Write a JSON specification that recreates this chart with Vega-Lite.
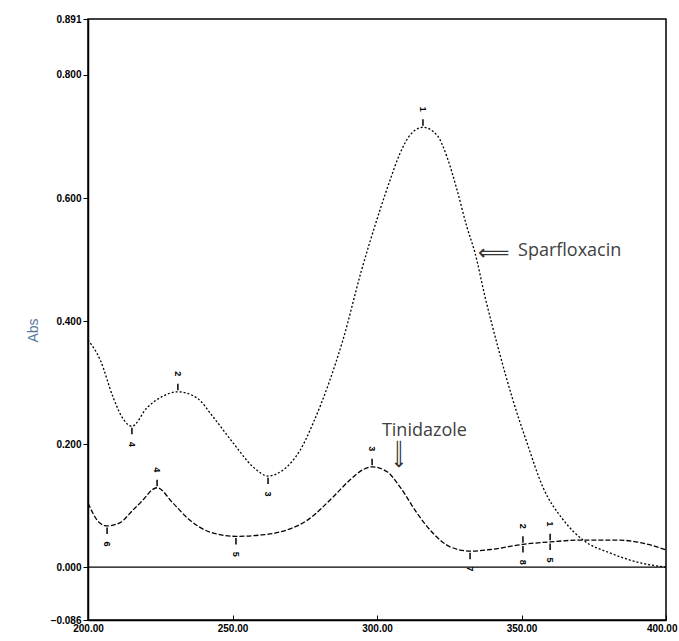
{
  "$schema": "https://vega.github.io/schema/vega-lite/v6.json",
  "width": 578,
  "height": 601,
  "autosize": {"type": "none"},
  "padding": {"left": 88, "top": 19, "right": 13, "bottom": 21},
  "background": "white",
  "config": {
    "view": {"stroke": "black", "strokeWidth": 1.5},
    "axis": {"grid": false, "domainColor": "black", "domainWidth": 1.5, "tickColor": "black", "labelColor": "black", "labelFont": "Liberation Sans", "labelFontSize": 10, "labelFontWeight": "bold"}
  },
  "datasets": {
    "spectra": [
      {"nm": 200, "abs": 0.369, "compound": "Sparfloxacin"},
      {"nm": 204.2, "abs": 0.337, "compound": "Sparfloxacin"},
      {"nm": 208.7, "abs": 0.276, "compound": "Sparfloxacin"},
      {"nm": 212, "abs": 0.242, "compound": "Sparfloxacin"},
      {"nm": 215.2, "abs": 0.229, "compound": "Sparfloxacin"},
      {"nm": 220.4, "abs": 0.259, "compound": "Sparfloxacin"},
      {"nm": 226, "abs": 0.278, "compound": "Sparfloxacin"},
      {"nm": 231.1, "abs": 0.285, "compound": "Sparfloxacin"},
      {"nm": 237.7, "abs": 0.275, "compound": "Sparfloxacin"},
      {"nm": 243.3, "abs": 0.244, "compound": "Sparfloxacin"},
      {"nm": 250.2, "abs": 0.202, "compound": "Sparfloxacin"},
      {"nm": 257.1, "abs": 0.163, "compound": "Sparfloxacin"},
      {"nm": 262.3, "abs": 0.148, "compound": "Sparfloxacin"},
      {"nm": 267.5, "abs": 0.158, "compound": "Sparfloxacin"},
      {"nm": 273.4, "abs": 0.19, "compound": "Sparfloxacin"},
      {"nm": 277.9, "abs": 0.234, "compound": "Sparfloxacin"},
      {"nm": 283.7, "abs": 0.304, "compound": "Sparfloxacin"},
      {"nm": 288.2, "abs": 0.369, "compound": "Sparfloxacin"},
      {"nm": 294.5, "abs": 0.48, "compound": "Sparfloxacin"},
      {"nm": 301, "abs": 0.58, "compound": "Sparfloxacin"},
      {"nm": 304.5, "abs": 0.629, "compound": "Sparfloxacin"},
      {"nm": 308, "abs": 0.673, "compound": "Sparfloxacin"},
      {"nm": 311.4, "abs": 0.702, "compound": "Sparfloxacin"},
      {"nm": 315.9, "abs": 0.715, "compound": "Sparfloxacin"},
      {"nm": 320.8, "abs": 0.702, "compound": "Sparfloxacin"},
      {"nm": 324.2, "abs": 0.667, "compound": "Sparfloxacin"},
      {"nm": 327.7, "abs": 0.613, "compound": "Sparfloxacin"},
      {"nm": 331.1, "abs": 0.553, "compound": "Sparfloxacin"},
      {"nm": 333.9, "abs": 0.511, "compound": "Sparfloxacin"},
      {"nm": 337.4, "abs": 0.439, "compound": "Sparfloxacin"},
      {"nm": 342, "abs": 0.355, "compound": "Sparfloxacin"},
      {"nm": 347, "abs": 0.272, "compound": "Sparfloxacin"},
      {"nm": 351.9, "abs": 0.202, "compound": "Sparfloxacin"},
      {"nm": 357.4, "abs": 0.13, "compound": "Sparfloxacin"},
      {"nm": 364.4, "abs": 0.077, "compound": "Sparfloxacin"},
      {"nm": 371.3, "abs": 0.044, "compound": "Sparfloxacin"},
      {"nm": 380.6, "abs": 0.023, "compound": "Sparfloxacin"},
      {"nm": 391, "abs": 0.007, "compound": "Sparfloxacin"},
      {"nm": 400, "abs": 0.0, "compound": "Sparfloxacin"},
      {"nm": 200, "abs": 0.104, "compound": "Tinidazole"},
      {"nm": 204, "abs": 0.072, "compound": "Tinidazole"},
      {"nm": 206.6, "abs": 0.067, "compound": "Tinidazole"},
      {"nm": 211, "abs": 0.072, "compound": "Tinidazole"},
      {"nm": 215.6, "abs": 0.093, "compound": "Tinidazole"},
      {"nm": 218, "abs": 0.104, "compound": "Tinidazole"},
      {"nm": 223.9, "abs": 0.129, "compound": "Tinidazole"},
      {"nm": 229.4, "abs": 0.104, "compound": "Tinidazole"},
      {"nm": 235.3, "abs": 0.076, "compound": "Tinidazole"},
      {"nm": 242.2, "abs": 0.057, "compound": "Tinidazole"},
      {"nm": 251.2, "abs": 0.05, "compound": "Tinidazole"},
      {"nm": 259.5, "abs": 0.052, "compound": "Tinidazole"},
      {"nm": 266.4, "abs": 0.057, "compound": "Tinidazole"},
      {"nm": 275.8, "abs": 0.076, "compound": "Tinidazole"},
      {"nm": 284.8, "abs": 0.114, "compound": "Tinidazole"},
      {"nm": 290.7, "abs": 0.142, "compound": "Tinidazole"},
      {"nm": 295, "abs": 0.158, "compound": "Tinidazole"},
      {"nm": 298.3, "abs": 0.163, "compound": "Tinidazole"},
      {"nm": 303.5, "abs": 0.155, "compound": "Tinidazole"},
      {"nm": 308, "abs": 0.13, "compound": "Tinidazole"},
      {"nm": 313.8, "abs": 0.088, "compound": "Tinidazole"},
      {"nm": 319.4, "abs": 0.055, "compound": "Tinidazole"},
      {"nm": 325.3, "abs": 0.033, "compound": "Tinidazole"},
      {"nm": 332.2, "abs": 0.026, "compound": "Tinidazole"},
      {"nm": 340, "abs": 0.029, "compound": "Tinidazole"},
      {"nm": 350.5, "abs": 0.037, "compound": "Tinidazole"},
      {"nm": 359.9, "abs": 0.041, "compound": "Tinidazole"},
      {"nm": 371, "abs": 0.044, "compound": "Tinidazole"},
      {"nm": 383, "abs": 0.044, "compound": "Tinidazole"},
      {"nm": 392, "abs": 0.039, "compound": "Tinidazole"},
      {"nm": 400, "abs": 0.028, "compound": "Tinidazole"}
    ],
    "markers": [
      {"nm": 315.9, "abs": 0.715, "num": "1", "pos": "above"},
      {"nm": 231.1, "abs": 0.285, "num": "2", "pos": "above"},
      {"nm": 262.3, "abs": 0.148, "num": "3", "pos": "below"},
      {"nm": 215.2, "abs": 0.229, "num": "4", "pos": "below"},
      {"nm": 206.6, "abs": 0.067, "num": "6", "pos": "below"},
      {"nm": 223.9, "abs": 0.129, "num": "4", "pos": "above"},
      {"nm": 251.2, "abs": 0.05, "num": "5", "pos": "below"},
      {"nm": 298.3, "abs": 0.163, "num": "3", "pos": "above"},
      {"nm": 332.2, "abs": 0.026, "num": "7", "pos": "below"},
      {"nm": 350.5, "abs": 0.037, "num": "2", "pos": "above"},
      {"nm": 350.5, "abs": 0.037, "num": "8", "pos": "below"},
      {"nm": 359.9, "abs": 0.041, "num": "1", "pos": "above"},
      {"nm": 359.9, "abs": 0.041, "num": "5", "pos": "below"}
    ],
    "notes": [
      {"nm": 348.8, "abs": 0.514, "label": "Sparfloxacin"},
      {"nm": 301.7, "abs": 0.222, "label": "Tinidazole"}
    ],
    "arrows": [
      {"nm": 340.4, "abs": 0.511, "label": "⟸", "dir": "left"},
      {"nm": 307.6, "abs": 0.184, "label": "⟸", "dir": "down"}
    ]
  },
  "layer": [
    {
      "data": {"values": [{"z": 0}]},
      "mark": {"type": "rule", "color": "black", "strokeWidth": 1.2},
      "encoding": {"y": {"field": "z", "type": "quantitative"}}
    },
    {
      "data": {"name": "spectra"},
      "mark": {"type": "line", "strokeWidth": 1.3, "interpolate": "monotone"},
      "encoding": {
        "x": {"field": "nm", "type": "quantitative", "scale": {"domain": [200, 400], "nice": false, "zero": false},
              "axis": {"title": null, "values": [200, 250, 300, 350, 400], "format": ".2f", "tickSize": -5, "labelPadding": 8, "labelFlush": false, "labelBound": false,
                       "labelAlign": {"expr": "datum.value == 400 ? 'right' : 'center'"},
                       "labelOffset": {"expr": "datum.value == 400 ? 11 : 0"}}},
        "y": {"field": "abs", "type": "quantitative", "scale": {"domain": [-0.086, 0.891], "nice": false, "zero": false},
              "axis": {"title": "Abs", "values": [-0.086, 0, 0.2, 0.4, 0.6, 0.8, 0.891], "format": ".3f", "tickSize": 5, "labelPadding": 2, "titleColor": "#56789c", "titleFont": "Liberation Sans", "titleFontSize": 14, "titleFontWeight": "normal", "titleX": -55, "titleY": 311, "titleAngle": 270, "titleAlign": "center", "titleBaseline": "middle"}},
        "color": {"field": "compound", "type": "nominal", "scale": {"range": ["black", "black"]}, "legend": null},
        "strokeDash": {"field": "compound", "type": "nominal", "scale": {"domain": ["Sparfloxacin", "Tinidazole"], "range": [[2, 2], [5, 2]]}, "legend": null}
      }
    },
    {
      "data": {"name": "markers"},
      "mark": {"type": "point", "filled": false, "strokeWidth": 1.5, "size": 260, "color": "black", "opacity": 1},
      "encoding": {
        "x": {"field": "nm", "type": "quantitative"},
        "y": {"field": "abs", "type": "quantitative"},
        "shape": {"field": "pos", "type": "nominal", "scale": {"domain": ["above", "below"], "range": ["M0,-0.2L0,-1", "M0,0.2L0,1"]}, "legend": null}
      }
    },
    {
      "data": {"name": "markers"},
      "transform": [{"filter": "datum.pos == 'above'"}],
      "mark": {"type": "text", "angle": 90, "dx": -18, "fontSize": 9, "font": "Liberation Sans", "fontWeight": "bold", "align": "center", "baseline": "middle", "color": "black"},
      "encoding": {
        "x": {"field": "nm", "type": "quantitative"},
        "y": {"field": "abs", "type": "quantitative"},
        "text": {"field": "num"}
      }
    },
    {
      "data": {"name": "markers"},
      "transform": [{"filter": "datum.pos == 'below'"}],
      "mark": {"type": "text", "angle": 90, "dx": 18, "fontSize": 9, "font": "Liberation Sans", "fontWeight": "bold", "align": "center", "baseline": "middle", "color": "black"},
      "encoding": {
        "x": {"field": "nm", "type": "quantitative"},
        "y": {"field": "abs", "type": "quantitative"},
        "text": {"field": "num"}
      }
    },
    {
      "data": {"name": "notes"},
      "mark": {"type": "text", "align": "left", "baseline": "middle", "font": "Open Sans", "fontSize": 18, "color": "#404040"},
      "encoding": {
        "x": {"field": "nm", "type": "quantitative"},
        "y": {"field": "abs", "type": "quantitative"},
        "text": {"field": "label"}
      }
    },
    {
      "data": {"name": "arrows"},
      "transform": [{"filter": "datum.dir == 'left'"}],
      "mark": {"type": "text", "align": "center", "baseline": "middle", "font": "DejaVu Sans", "fontSize": 22, "color": "#333333"},
      "encoding": {
        "x": {"field": "nm", "type": "quantitative"},
        "y": {"field": "abs", "type": "quantitative"},
        "text": {"field": "label"}
      }
    },
    {
      "data": {"name": "arrows"},
      "transform": [{"filter": "datum.dir == 'down'"}],
      "mark": {"type": "text", "align": "center", "baseline": "middle", "angle": 270, "font": "DejaVu Sans", "fontSize": 20, "color": "#333333"},
      "encoding": {
        "x": {"field": "nm", "type": "quantitative"},
        "y": {"field": "abs", "type": "quantitative"},
        "text": {"field": "label"}
      }
    }
  ]
}
